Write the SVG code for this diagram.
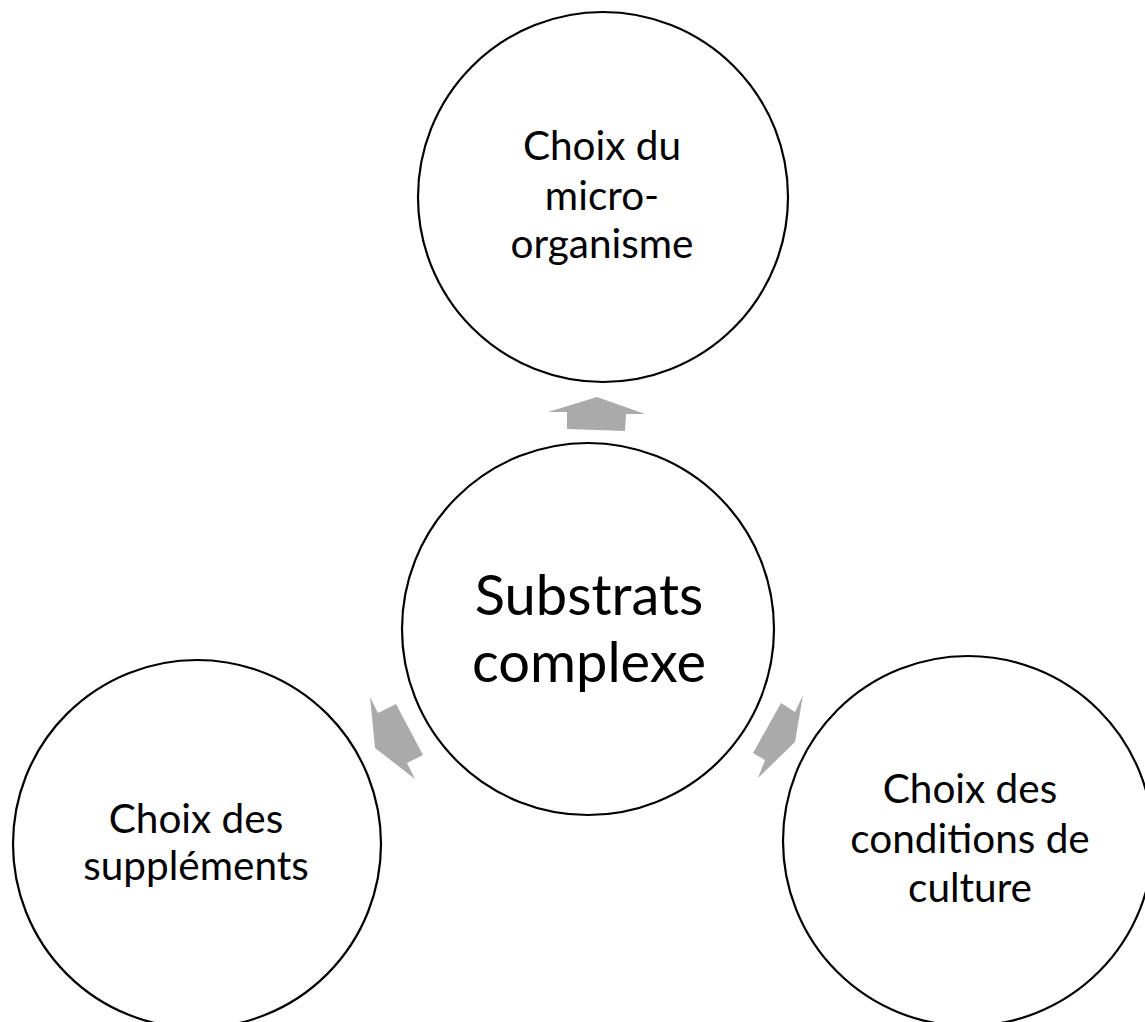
<svg xmlns="http://www.w3.org/2000/svg" width="1145" height="1022" viewBox="0 0 1145 1022">
<style>
.node circle{fill:#fff;stroke:#000;stroke-width:2.2}
.node text{font-family:Lato,"Open Sans","Liberation Sans",sans-serif;fill:#000;text-anchor:middle}
.t{font-size:40.5px}
.big{font-size:56px}
.arrow{fill:#aaaaaa;stroke:none}
</style>
<rect width="1145" height="1022" fill="#fff"/>
<g id="node-top" class="node">
<circle cx="603" cy="197" r="185"/>
<text class="t" x="602" y="160">Choix du</text>
<text class="t" x="602" y="210">micro-</text>
<text class="t" x="602" y="258">organisme</text>
</g>
<g id="node-center" class="node">
<circle cx="588" cy="629" r="186"/>
<text class="big" x="589" y="615">Substrats</text>
<text class="big" x="589" y="682">complexe</text>
</g>
<g id="node-left" class="node">
<circle cx="197" cy="844" r="184"/>
<text class="t" x="196" y="833">Choix des</text>
<text class="t" x="196" y="880">suppléments</text>
</g>
<g id="node-right" class="node">
<circle cx="968" cy="841" r="185"/>
<text class="t" x="970" y="803">Choix des</text>
<text class="t" x="970" y="853">conditions de</text>
<text class="t" x="970" y="902">culture</text>
</g>
<g id="connectors">
<polygon class="arrow" points="548,412 597,397 645,414 626,414 625,431 567,429 567,412"/>
<polygon class="arrow" points="370,697 378,713 396,704 423,755 407,763 415,779 375,748"/>
<polygon class="arrow" points="803,695 795,712 781,703 753,753 765,760 758,778 795,742"/>
</g>
</svg>
